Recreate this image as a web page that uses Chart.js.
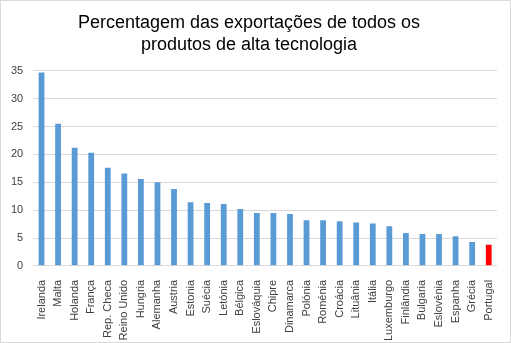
<!DOCTYPE html>
<html lang="pt">
<head>
  <meta charset="UTF-8" />
  <title>Exportações de alta tecnologia</title>
  <script src="https://cdn.jsdelivr.net/npm/chart.js"></script>
  <style>
    body { margin: 0; background: #fff; }
    .frame {
      width: 511px;
      height: 343px;
      box-sizing: border-box;
      border: 1px solid #d9d9d9;
      position: relative;
    }
  </style>
</head>
<body>
  <div class="frame">
    <canvas id="chart"></canvas>
  </div>

  <script>
    const countries = [
      "Irelanda", "Malta", "Holanda", "França", "Rep. Checa", "Reino Unido", "Hungria",
      "Alemanha", "Austria", "Estonia", "Suécia", "Letónia", "Bélgica", "Eslováquia",
      "Chipre", "Dinamarca", "Polónia", "Roménia", "Croácia", "Lituânia", "Itália",
      "Luxemburgo", "Finlândia", "Bulgaria", "Eslovénia", "Espanha", "Grécia", "Portugal"
    ];
    const shares = [
      34.7, 25.5, 21.2, 20.3, 17.6, 16.6, 15.6,
      15.0, 13.8, 11.4, 11.3, 11.1, 10.2, 9.5,
      9.5, 9.3, 8.2, 8.2, 8.0, 7.8, 7.6,
      7.1, 5.9, 5.7, 5.7, 5.3, 4.3, 3.8
    ];
    const yTicks = [0, 5, 10, 15, 20, 25, 30, 35];
    const highlight = "Portugal";

    const barColors = countries.map(c => c === highlight ? "#ff0000" : "#5b9bd5");

    new Chart(document.getElementById("chart"), {
      type: "bar",
      data: {
        labels: countries,
        datasets: [{
          data: shares,
          backgroundColor: barColors,
          borderWidth: 0,
          barPercentage: 0.35,
          categoryPercentage: 1
        }]
      },
      options: {
        responsive: true,
        maintainAspectRatio: false,
        animation: false,
        layout: { padding: { left: 0, right: 13, top: 0, bottom: -5 } },
        plugins: {
          legend: { display: false },
          tooltip: { enabled: false },
          title: {
            display: true,
            text: ["Percentagem das exportações de todos os", "produtos de alta tecnologia"],
            color: "#000",
            font: { family: "Liberation Sans", size: 18, weight: "normal", lineHeight: 1.22 },
            padding: { top: 11, bottom: 15 }
          }
        },
        scales: {
          x: {
            grid: { display: false },
            border: { display: false },
            ticks: {
              color: "#404040",
              font: { family: "Liberation Sans", size: 11 },
              minRotation: 90,
              maxRotation: 90,
              autoSkip: false,
              padding: 6
            }
          },
          y: {
            min: yTicks[0],
            max: yTicks[yTicks.length - 1],
            afterBuildTicks: axis => { axis.ticks = yTicks.map(v => ({ value: v })); },
            grid: { color: "#d9d9d9", drawTicks: false },
            border: { display: false },
            ticks: {
              color: "#404040",
              font: { family: "Liberation Sans", size: 11 },
              padding: 10
            }
          }
        }
      }
    });
  </script>
</body>
</html>
